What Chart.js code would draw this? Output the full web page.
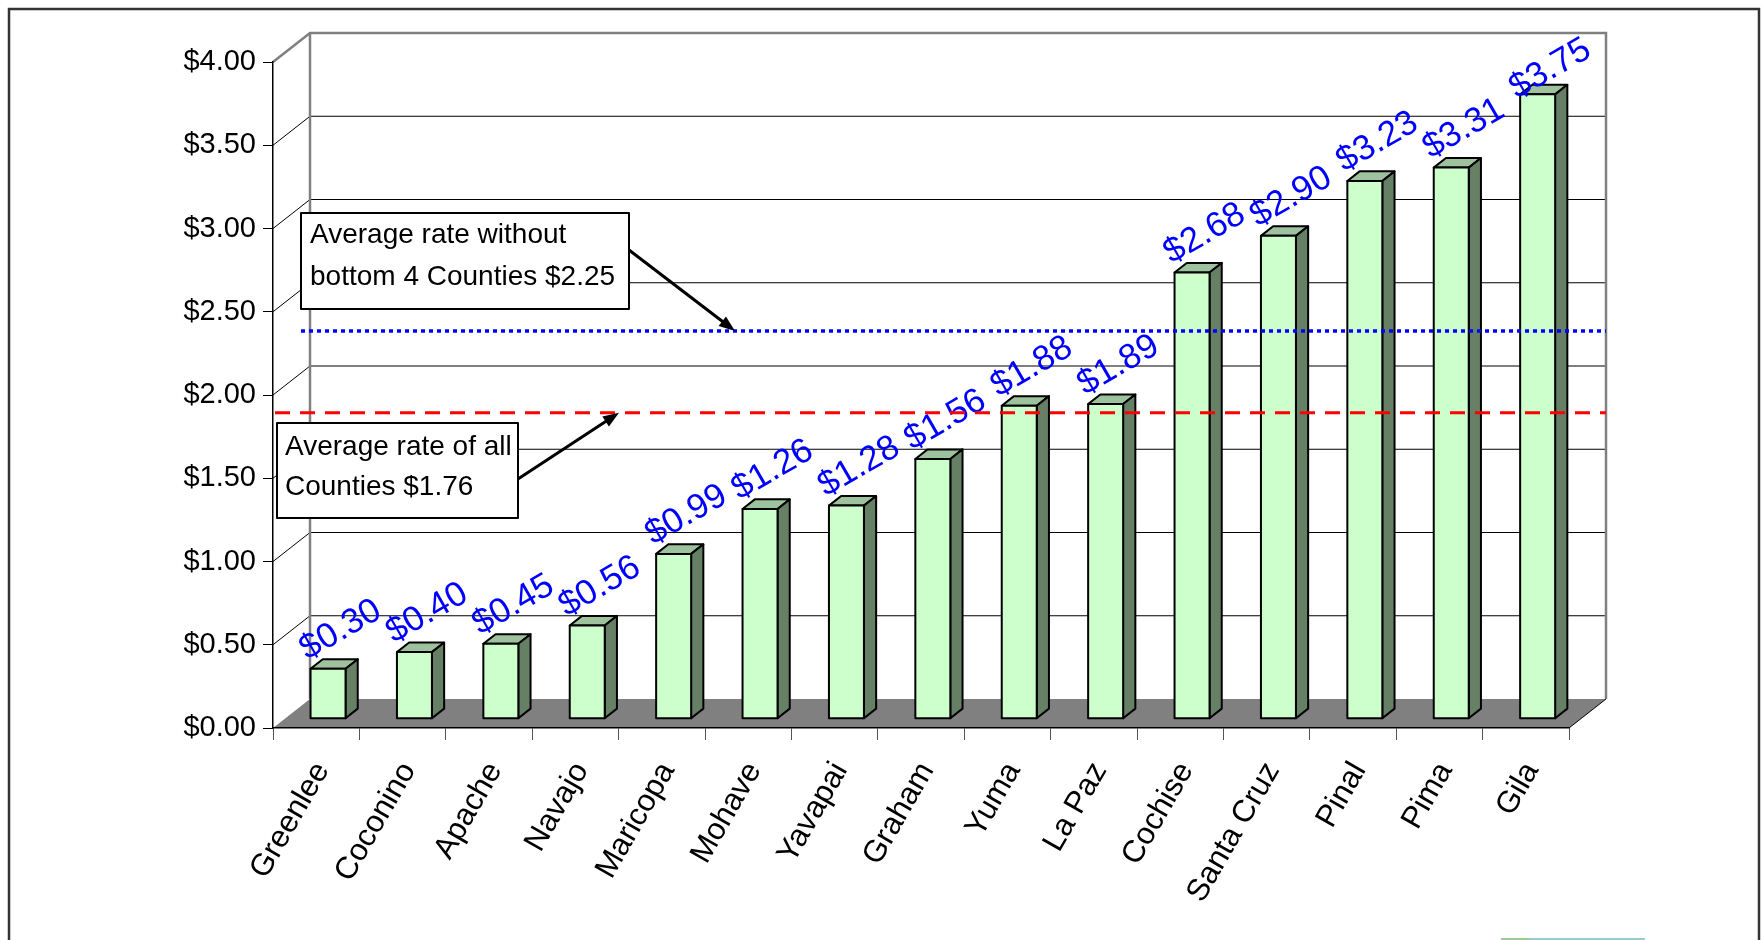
<!DOCTYPE html>
<html>
<head>
<meta charset="utf-8">
<script src="https://cdn.jsdelivr.net/npm/chart.js@4.4.1/dist/chart.umd.min.js"></script>
<style>
  html, body { margin: 0; padding: 0; background: #fff; }
  #wrap { width: 1763px; height: 940px; position: relative; }
</style>
</head>
<body>
<div id="wrap"><canvas id="rateChart"></canvas></div>
<script>
// ==========================================
// Data
// ==========================================

const counties = ["Greenlee", "Coconino", "Apache", "Navajo", "Maricopa", "Mohave", "Yavapai",
   "Graham", "Yuma", "La Paz", "Cochise", "Santa Cruz", "Pinal", "Pima", "Gila"];
const rates = [0.30, 0.40, 0.45, 0.56, 0.99, 1.26, 1.28, 1.56, 1.88, 1.89, 2.68, 2.90, 3.23, 3.31, 3.75];

const avgAllCounties = 1.76;
const avgWithoutBottom4 = 2.25;

const FONT = '"Liberation Sans", Arial, sans-serif';

// ==========================================
// 3D look
// ==========================================

// depth vector of the floor / walls (front plane -> back wall)
const DX = 37, DY = -29;
// bars sit partway back in the depth, and are a third of it deep
const BAR_FRONT = 0.32, BAR_DEPTH = 0.33;
// the average lines sit near the back wall
const LINE_DEPTH = 0.77;

const money = v => "$" + v.toFixed(2);

// walls, floor, gridlines and the outer frame
const walls = {
   id: "walls",
   beforeDraw(chart) {
      const { ctx, chartArea: a, scales: { y } } = chart;
      ctx.save();
      ctx.fillStyle = "#fff";
      ctx.fillRect(0, 0, chart.width, chart.height);

      // frame round the whole chart
      ctx.strokeStyle = "#333";
      ctx.lineWidth = 2.5;
      ctx.strokeRect(9, 9, 1750, 980);
      // top edge of the legend box, cut by the page bottom
      ctx.lineWidth = 2;
      ctx.strokeStyle = "#9c9";
      ctx.beginPath(); ctx.moveTo(1501, 939); ctx.lineTo(1530, 939); ctx.stroke();
      ctx.strokeStyle = "#9cc";
      ctx.beginPath(); ctx.moveTo(1530, 939); ctx.lineTo(1645, 939); ctx.stroke();

      // floor
      ctx.fillStyle = "#808080";
      ctx.beginPath();
      ctx.moveTo(a.left, a.bottom);
      ctx.lineTo(a.right, a.bottom);
      ctx.lineTo(a.right + DX, a.bottom + DY);
      ctx.lineTo(a.left + DX, a.bottom + DY);
      ctx.closePath();
      ctx.fill();

      // gridlines: across the side wall, then along the back wall
      ctx.strokeStyle = "#000";
      ctx.lineWidth = 1;
      y.ticks.forEach(t => {
         if (t.value <= y.min || t.value >= y.max) return;
         const py = y.getPixelForValue(t.value);
         ctx.beginPath();
         ctx.moveTo(a.left, py);
         ctx.lineTo(a.left + DX, py + DY);
         ctx.lineTo(a.right + DX, py + DY);
         ctx.stroke();
      });

      // wall edges
      ctx.strokeStyle = "#808080";
      ctx.lineWidth = 2.5;
      ctx.beginPath();
      ctx.moveTo(a.left, a.top);
      ctx.lineTo(a.left + DX, a.top + DY);
      ctx.lineTo(a.right + DX, a.top + DY);
      ctx.lineTo(a.right + DX, a.bottom + DY);
      ctx.moveTo(a.left + DX, a.top + DY);
      ctx.lineTo(a.left + DX, a.bottom + DY);
      ctx.stroke();

      // right edge of the floor
      ctx.strokeStyle = "#000";
      ctx.lineWidth = 1;
      ctx.beginPath();
      ctx.moveTo(a.right, a.bottom);
      ctx.lineTo(a.right + DX, a.bottom + DY);
      ctx.stroke();
      ctx.restore();
   }
};

function drawArrow(ctx, x0, y0, x1, y1) {
   const ang = Math.atan2(y1 - y0, x1 - x0);
   const len = 16, half = 6;
   ctx.beginPath();
   ctx.moveTo(x0, y0);
   ctx.lineTo(x1 - Math.cos(ang) * len * 0.8, y1 - Math.sin(ang) * len * 0.8);
   ctx.stroke();
   ctx.beginPath();
   ctx.moveTo(x1, y1);
   ctx.lineTo(x1 - Math.cos(ang) * len + Math.sin(ang) * half, y1 - Math.sin(ang) * len - Math.cos(ang) * half);
   ctx.lineTo(x1 - Math.cos(ang) * len - Math.sin(ang) * half, y1 - Math.sin(ang) * len + Math.cos(ang) * half);
   ctx.closePath();
   ctx.fill();
}

function drawNote(ctx, box, lines, textX, baselines) {
   ctx.fillStyle = "#fff";
   ctx.fillRect(box[0], box[1], box[2], box[3]);
   ctx.strokeStyle = "#000";
   ctx.lineWidth = 2;
   ctx.strokeRect(box[0], box[1], box[2], box[3]);
   ctx.fillStyle = "#000";
   ctx.font = "28px " + FONT;
   ctx.textAlign = "left";
   ctx.textBaseline = "alphabetic";
   lines.forEach((s, i) => ctx.fillText(s, textX, baselines[i]));
}

// 3D columns, value labels, average lines and their notes
const columns = {
   id: "columns",
   afterDatasetsDraw(chart) {
      const { ctx, chartArea: a, scales: { y } } = chart;
      const meta = chart.getDatasetMeta(0);
      const fx = BAR_FRONT * DX, fy = BAR_FRONT * DY;
      const bx = BAR_DEPTH * DX, by = BAR_DEPTH * DY;
      ctx.save();
      ctx.lineWidth = 2;
      ctx.lineJoin = "round";
      ctx.strokeStyle = "#000";

      meta.data.forEach((el, i) => {
         const x0 = el.x - el.width / 2 + fx, x1 = el.x + el.width / 2 + fx;
         const yt = el.y + fy, yb = el.base + fy;
         // top
         ctx.fillStyle = "#9dc29d";
         ctx.beginPath();
         ctx.moveTo(x0, yt); ctx.lineTo(x1, yt); ctx.lineTo(x1 + bx, yt + by); ctx.lineTo(x0 + bx, yt + by);
         ctx.closePath(); ctx.fill(); ctx.stroke();
         // side
         ctx.fillStyle = "#668066";
         ctx.beginPath();
         ctx.moveTo(x1, yt); ctx.lineTo(x1 + bx, yt + by); ctx.lineTo(x1 + bx, yb + by); ctx.lineTo(x1, yb);
         ctx.closePath(); ctx.fill(); ctx.stroke();
         // front
         ctx.fillStyle = "#ccffcc";
         ctx.beginPath();
         ctx.rect(x0, yt, x1 - x0, yb - yt);
         ctx.fill(); ctx.stroke();
      });

      // value labels, tilted, kept under the top of the back wall
      ctx.font = "35px " + FONT;
      ctx.fillStyle = "#0000ff";
      ctx.textAlign = "left";
      ctx.textBaseline = "alphabetic";
      const tilt = Math.PI / 6;
      meta.data.forEach((el, i) => {
         const txt = money(rates[i]);
         const w = ctx.measureText(txt).width;
         const sx = el.x - el.width / 2 + fx - 3;
         let sy = el.y + fy + by + 1;
         const topY = sy - w * Math.sin(tilt) - 26 * Math.cos(tilt);
         const wallTop = a.top + DY;
         if (topY < wallTop) sy += wallTop - topY;
         ctx.save();
         ctx.translate(sx, sy);
         ctx.rotate(-tilt);
         ctx.fillText(txt, 0, 0);
         ctx.restore();
      });

      // average lines
      const lineY = v => y.getPixelForValue(v) + LINE_DEPTH * DY;
      const yAll = lineY(avgAllCounties), yTop = lineY(avgWithoutBottom4);
      ctx.lineWidth = 3;
      ctx.lineCap = "butt";
      ctx.strokeStyle = "#ff0000";
      ctx.setLineDash([15, 10]);
      ctx.beginPath(); ctx.moveTo(a.left + 2, yAll); ctx.lineTo(a.right + DX, yAll); ctx.stroke();
      ctx.strokeStyle = "#0000ff";
      ctx.lineWidth = 3.5;
      ctx.setLineDash([4, 4]);
      ctx.beginPath(); ctx.moveTo(a.left + 28, yTop); ctx.lineTo(a.right + DX, yTop); ctx.stroke();
      ctx.setLineDash([]);

      // notes with arrows onto the lines
      ctx.strokeStyle = "#000";
      ctx.fillStyle = "#000";
      ctx.lineWidth = 3;
      drawArrow(ctx, 629, 250, 735, yTop);
      drawArrow(ctx, 518, 479, 619, yAll);
      drawNote(ctx, [301, 213, 328, 96],
         ["Average rate without", "bottom 4 Counties " + money(avgWithoutBottom4)], 310, [243, 285]);
      drawNote(ctx, [277, 423, 241, 95],
         ["Average rate of all", "Counties " + money(avgAllCounties)], 285, [455, 495]);
      ctx.restore();
   }
};

// ==========================================
// Chart
// ==========================================

const chart = new Chart(document.getElementById("rateChart"), {
   type: "bar",
   data: {
      labels: counties,
      datasets: [{
         data: rates,
         backgroundColor: "rgba(0,0,0,0)",
         borderWidth: 0,
         barPercentage: 0.405,
         categoryPercentage: 1
      }]
   },
   options: {
      responsive: true,
      maintainAspectRatio: false,
      animation: false,
      devicePixelRatio: 1,
      layout: { padding: { top: 62, right: 194, left: 0, bottom: 0 } },
      plugins: { legend: { display: false }, tooltip: { enabled: false } },
      scales: {
         x: {
            afterFit: s => { s.height = 212; },
            grid: { offset: true, drawOnChartArea: false, tickLength: 12, color: "#555", lineWidth: 1 },
            border: { color: "#000", width: 1.5 },
            ticks: {
               autoSkip: false, minRotation: 60, maxRotation: 60,
               padding: 16, labelOffset: 6,
               color: "#000", font: { family: FONT, size: 31 }
            }
         },
         y: {
            min: 0, max: 4,
            afterFit: s => { s.width = 273; },
            grid: { drawOnChartArea: false, tickLength: 10, color: "#000", lineWidth: 1 },
            border: { color: "#000", width: 1.5 },
            ticks: {
               stepSize: 0.5, padding: 7, color: "#000",
               font: { family: FONT, size: 29 },
               callback: v => money(v)
            }
         }
      }
   },
   plugins: [walls, columns]
});
</script>
</body>
</html>
